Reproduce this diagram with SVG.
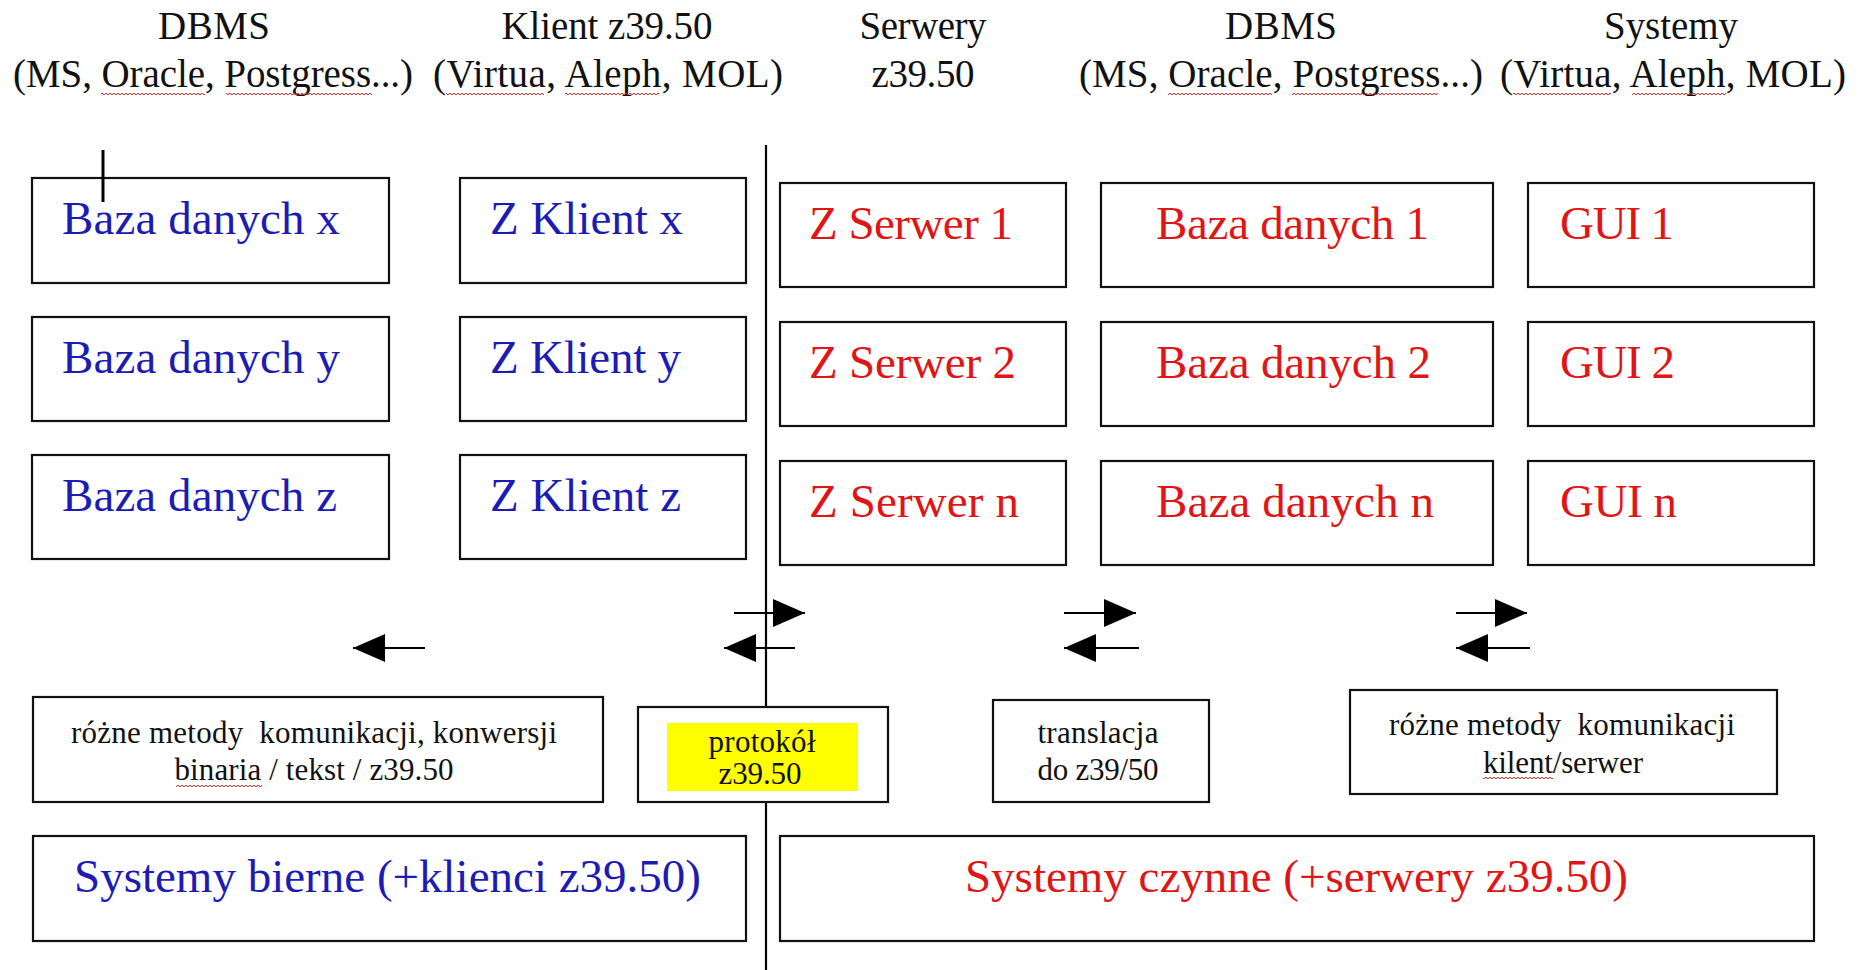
<svg xmlns="http://www.w3.org/2000/svg" width="1858" height="970" viewBox="0 0 1858 970">
<style>
.bg{fill:#ffffff}
.box{fill:#ffffff;stroke:#111111;stroke-width:2.2}
.hdr{font-family:"Liberation Serif","Times New Roman",serif;font-size:39px;fill:#111111;text-anchor:middle}
.bl{font-family:"Liberation Serif","Times New Roman",serif;font-size:47px;fill:#1c1cb4}
.rd{font-family:"Liberation Serif","Times New Roman",serif;font-size:47px;fill:#e01515}
.sm{font-family:"Liberation Serif","Times New Roman",serif;font-size:31px;fill:#111111;text-anchor:middle}
.con{stroke:#000000;stroke-width:2.2;fill:none}
.sq{fill:url(#sq)}
</style>
<defs>
<marker id="ah" markerUnits="userSpaceOnUse" markerWidth="32" markerHeight="28" refX="32" refY="14" orient="auto">
<path d="M0,0 L32,14 L0,28 z" fill="#000000"/>
</marker>
<pattern id="sq" width="4" height="4" patternUnits="userSpaceOnUse">
<path d="M0,3 L2,1 L4,3" stroke="#e03030" stroke-width="1" fill="none"/>
</pattern>
</defs>
<rect class="bg" x="0" y="0" width="1858" height="970"/>

<g id="headers">
<text class="hdr" x="214" y="39" textLength="112">DBMS</text>
<text class="hdr" x="213" y="87" textLength="400">(MS, Oracle, Postgress...)</text>
<text class="hdr" x="607" y="39" textLength="211">Klient z39.50</text>
<text class="hdr" x="608" y="87" textLength="350">(Virtua, Aleph, MOL)</text>
<text class="hdr" x="923" y="39" textLength="127">Serwery</text>
<text class="hdr" x="923" y="87" textLength="103">z39.50</text>
<text class="hdr" x="1281" y="39" textLength="112">DBMS</text>
<text class="hdr" x="1281" y="87" textLength="404">(MS, Oracle, Postgress...)</text>
<text class="hdr" x="1671" y="39" textLength="134">Systemy</text>
<text class="hdr" x="1673" y="87" textLength="346">(Virtua, Aleph, MOL)</text>
<rect class="sq" x="101" y="91" width="104" height="4"/>
<rect class="sq" x="226" y="91" width="146" height="4"/>
<rect class="sq" x="446" y="91" width="98" height="4"/>
<rect class="sq" x="565" y="91" width="94" height="4"/>
<rect class="sq" x="1168" y="91" width="104" height="4"/>
<rect class="sq" x="1292" y="91" width="146" height="4"/>
<rect class="sq" x="1513" y="91" width="98" height="4"/>
<rect class="sq" x="1632" y="91" width="94" height="4"/>
</g>

<g id="node-baza-x"><rect class="box" x="32" y="178" width="357" height="105"/><text class="bl" x="62" y="234" textLength="278">Baza danych x</text></g>
<g id="node-baza-y"><rect class="box" x="32" y="317" width="357" height="104"/><text class="bl" x="62" y="373" textLength="278">Baza danych y</text></g>
<g id="node-baza-z"><rect class="box" x="32" y="455" width="357" height="104"/><text class="bl" x="62" y="511" textLength="275">Baza danych z</text></g>

<g id="node-klient-x"><rect class="box" x="460" y="178" width="286" height="105"/><text class="bl" x="490" y="234" textLength="193">Z Klient x</text></g>
<g id="node-klient-y"><rect class="box" x="460" y="317" width="286" height="104"/><text class="bl" x="490" y="373" textLength="191">Z Klient y</text></g>
<g id="node-klient-z"><rect class="box" x="460" y="455" width="286" height="104"/><text class="bl" x="490" y="511" textLength="191">Z Klient z</text></g>

<g id="node-serwer-1"><rect class="box" x="780" y="183" width="286" height="104"/><text class="rd" x="809" y="239" textLength="204">Z Serwer 1</text></g>
<g id="node-serwer-2"><rect class="box" x="780" y="322" width="286" height="104"/><text class="rd" x="809" y="378" textLength="207">Z Serwer 2</text></g>
<g id="node-serwer-n"><rect class="box" x="780" y="461" width="286" height="104"/><text class="rd" x="809" y="517" textLength="210">Z Serwer n</text></g>

<g id="node-baza-1"><rect class="box" x="1101" y="183" width="392" height="104"/><text class="rd" x="1156" y="239" textLength="273">Baza danych 1</text></g>
<g id="node-baza-2"><rect class="box" x="1101" y="322" width="392" height="104"/><text class="rd" x="1156" y="378" textLength="275">Baza danych 2</text></g>
<g id="node-baza-n"><rect class="box" x="1101" y="461" width="392" height="104"/><text class="rd" x="1156" y="517" textLength="278">Baza danych n</text></g>

<g id="node-gui-1"><rect class="box" x="1528" y="183" width="286" height="104"/><text class="rd" x="1560" y="239" textLength="114">GUI 1</text></g>
<g id="node-gui-2"><rect class="box" x="1528" y="322" width="286" height="104"/><text class="rd" x="1560" y="378" textLength="115">GUI 2</text></g>
<g id="node-gui-n"><rect class="box" x="1528" y="461" width="286" height="104"/><text class="rd" x="1560" y="517" textLength="117">GUI n</text></g>

<g id="node-metody-left"><rect class="box" x="33" y="697" width="570" height="105"/>
<text class="sm" x="314" y="743" textLength="486" xml:space="preserve">różne metody  komunikacji, konwersji</text>
<text class="sm" x="314" y="780" textLength="279">binaria / tekst / z39.50</text>
<rect class="sq" x="176" y="785" width="86" height="4"/></g>

<g id="node-translacja"><rect class="box" x="993" y="700" width="216" height="102"/>
<text class="sm" x="1098" y="743" textLength="121">translacja</text>
<text class="sm" x="1098" y="780" textLength="121">do z39/50</text></g>

<g id="node-metody-right"><rect class="box" x="1350" y="690" width="427" height="104"/>
<text class="sm" x="1562" y="735" textLength="346" xml:space="preserve">różne metody  komunikacji</text>
<text class="sm" x="1563" y="773" textLength="160">kilent/serwer</text>
<rect class="sq" x="1483" y="777" width="70" height="4"/></g>

<g id="node-bierne"><rect class="box" x="33" y="836" width="713" height="105"/><text class="bl" x="74" y="892" textLength="627">Systemy bierne (+klienci z39.50)</text></g>
<g id="node-czynne"><rect class="box" x="780" y="836" width="1034" height="105"/><text class="rd" x="965" y="892" textLength="663">Systemy czynne (+serwery z39.50)</text></g>

<g id="connectors">
<line class="con" x1="766" y1="145" x2="766" y2="707"/>
<line class="con" x1="766" y1="802" x2="766" y2="970"/>
<line x1="103" y1="150" x2="103" y2="202" stroke="#000" stroke-width="3"/>
<line class="con" x1="425" y1="648" x2="353" y2="648" marker-end="url(#ah)"/>
<line class="con" x1="734" y1="613" x2="805" y2="613" marker-end="url(#ah)"/>
<line class="con" x1="795" y1="648" x2="724" y2="648" marker-end="url(#ah)"/>
<line class="con" x1="1064" y1="613" x2="1136" y2="613" marker-end="url(#ah)"/>
<line class="con" x1="1139" y1="648" x2="1064" y2="648" marker-end="url(#ah)"/>
<line class="con" x1="1456" y1="613" x2="1527" y2="613" marker-end="url(#ah)"/>
<line class="con" x1="1530" y1="648" x2="1456" y2="648" marker-end="url(#ah)"/>
</g>

<g id="node-protokol"><rect class="box" x="638" y="707" width="250" height="95"/>
<rect x="667" y="723" width="191" height="68" fill="#ffff00"/>
<text class="sm" x="762" y="752" textLength="107">protokół</text>
<text class="sm" x="760" y="784" textLength="83">z39.50</text></g>
</svg>
